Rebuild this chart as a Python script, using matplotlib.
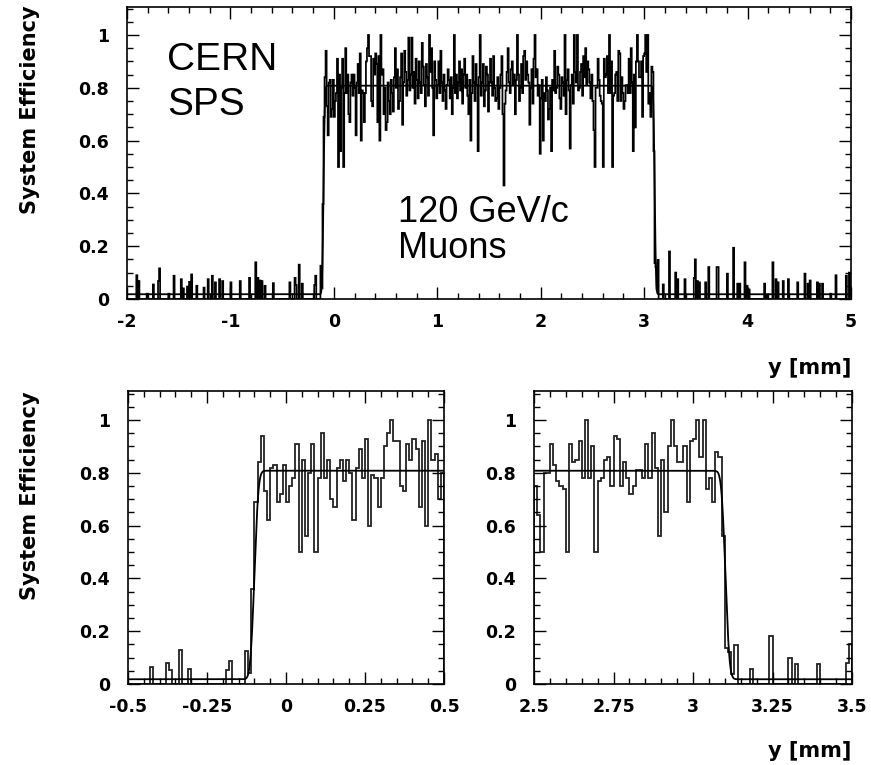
import numpy as np
import matplotlib
matplotlib.use("Agg")
import matplotlib.pyplot as plt
from matplotlib.ticker import MultipleLocator
from math import erf

# ---------------- data (bin width 0.01 mm) ----------------
bin_width = 0.01

# efficiency in bins from -0.5 to 0.5 mm (left edge zoom)
left_edge_eff = [
    0, 0, 0, 0, 0, 0, 0, 0.063, 0, 0,
    0, 0, 0.08, 0.053, 0, 0, 0.13, 0, 0, 0.058,
    0, 0, 0, 0, 0, 0, 0, 0, 0, 0,
    0, 0.053, 0.088, 0, 0, 0, 0, 0.126, 0.04, 0.36,
    0.69, 0.84, 0.94, 0.73, 0.62, 0.82, 0.83, 0.69, 0.72, 0.83,
    0.69, 0.75, 0.78, 0.91, 0.50, 0.85, 0.56, 0.80, 0.91, 0.50,
    0.78, 0.95, 0.78, 0.85, 0.70, 0.67, 0.82, 0.85, 0.77, 0.85,
    0.80, 0.62, 0.82, 0.89, 0.78, 0.93, 0.60, 0.79, 0.78, 0.67,
    0.78, 0.90, 0.95, 1.00, 0.92, 0.92, 0.75, 0.73, 0.91, 0.85,
    0.93, 0.89, 0.67, 0.92, 0.60, 1.00, 0.85, 0.87, 0.70, 0.80,
]

# efficiency in bins from 0.5 to 2.5 mm (plateau)
plateau_eff = [
    0.64, 0.67, 0.82, 0.75, 0.70, 0.83, 0.78, 0.71, 0.84, 0.95,
    0.80, 0.87, 0.72, 0.75, 0.84, 0.93, 0.66, 0.82, 0.94, 0.86,
    0.77, 0.83, 0.99, 0.79, 0.85, 0.99, 0.80, 0.86, 0.74, 0.91,
    0.83, 0.76, 0.90, 0.82, 0.78, 0.97, 0.88, 0.81, 0.73, 0.89,
    0.84, 0.77, 1.00, 0.86, 0.95, 0.80, 0.62, 0.90, 0.83, 0.76,
    0.81, 0.90, 0.78, 0.94, 0.82, 0.75, 0.85, 0.79, 0.72, 0.81,
    0.87, 0.83, 0.76, 0.84, 0.70, 0.80, 1.00, 0.78, 0.85, 0.76,
    0.82, 0.90, 0.79, 0.87, 0.74, 0.85, 0.91, 0.80, 0.85, 0.77,
    0.70, 0.83, 0.60, 0.78, 0.92, 0.82, 0.75, 0.89, 0.81, 0.56,
    0.84, 1.00, 0.77, 0.82, 0.89, 0.73, 0.79, 0.88, 0.85, 0.71,
    0.82, 0.91, 0.82, 0.77, 0.92, 0.80, 0.75, 0.76, 0.84, 0.72,
    0.80, 0.85, 0.92, 0.70, 0.43, 0.74, 0.79, 0.86, 0.95, 0.82,
    0.78, 0.87, 0.90, 0.81, 0.85, 0.70, 0.83, 1.00, 0.85, 0.75,
    0.80, 0.89, 0.78, 0.92, 0.94, 0.83, 0.90, 0.85, 0.82, 0.66,
    0.80, 0.87, 0.74, 0.91, 1.00, 0.84, 0.87, 0.77, 0.81, 0.55,
    0.76, 0.83, 0.60, 0.78, 0.75, 0.84, 0.79, 0.68, 0.72, 0.80,
    0.56, 0.83, 0.79, 0.94, 0.78, 0.80, 0.88, 0.85, 0.76, 0.72,
    0.84, 0.82, 0.77, 1.00, 0.70, 0.83, 0.87, 0.79, 0.57, 0.81,
    0.85, 0.74, 1.00, 0.86, 0.82, 1.00, 0.79, 0.80, 0.86, 0.89,
    0.77, 0.92, 0.84, 0.95, 0.81, 0.90, 0.87, 0.82, 0.76, 0.85,
]

# efficiency in bins from 2.5 to 3.5 mm (right edge zoom)
right_edge_eff = [
    0.75, 0.64, 0.50, 0.80, 0.80, 0.91, 0.83, 0.77, 0.75, 0.74,
    0.50, 0.91, 0.84, 0.85, 0.92, 0.78, 1.00, 0.78, 0.90, 0.50,
    0.77, 0.78, 0.85, 0.86, 0.75, 0.94, 0.93, 0.75, 0.84, 0.78,
    0.72, 0.75, 0.81, 0.81, 0.78, 0.91, 0.78, 0.95, 0.82, 0.56,
    0.85, 0.65, 0.90, 1.00, 0.90, 0.84, 0.84, 0.90, 0.69, 0.92,
    0.93, 1.00, 0.86, 1.00, 0.74, 0.78, 0.69, 0.88, 0.86, 0.56,
    0.136, 0.12, 0.036, 0.148, 0, 0, 0, 0, 0.055, 0,
    0, 0, 0, 0, 0.18, 0, 0, 0, 0, 0,
    0.10, 0, 0.075, 0, 0, 0, 0, 0, 0, 0.075,
    0, 0, 0, 0, 0, 0, 0, 0, 0.08, 0.15,
]

# sparse noise outside the sensor (bin left edges, mm) and values
noise_left_y = [-1.91, -1.89, -1.81, -1.75, -1.70, -1.69, -1.60, -1.55,
                -1.48, -1.46, -1.42, -1.40, -1.38, -1.33, -1.26, -1.22,
                -1.18, -1.15, -1.11, -1.08, -1.00, -0.91, -0.82, -0.76,
                -0.74, -0.72, -0.70, -0.67, -0.59]
noise_left_eff = [0.09, 0.068, 0.02, 0.055, 0.068, 0.116, 0.02, 0.088,
                  0.075, 0.04, 0.047, 0.065, 0.093, 0.05, 0.043, 0.075,
                  0.088, 0.063, 0.075, 0.068, 0.063, 0.068, 0.08, 0.139,
                  0.08, 0.07, 0.068, 0.05, 0.06]
noise_right_y = [3.51, 3.53, 3.59, 3.62, 3.70, 3.71, 3.80, 3.86, 3.90,
                 3.92, 3.97, 3.99, 4.01, 4.16, 4.18, 4.24, 4.27, 4.29,
                 4.34, 4.39, 4.48, 4.55, 4.58, 4.60, 4.67, 4.69, 4.72,
                 4.80, 4.85, 4.95, 4.98]
noise_right_eff = [0.068, 0.063, 0.063, 0.121, 0.121, 0.121, 0.096, 0.194,
                   0.058, 0.058, 0.139, 0.05, 0.036, 0.058, 0.017, 0.139,
                   0.075, 0.063, 0.068, 0.075, 0.063, 0.096, 0.058, 0.07,
                   0.063, 0.058, 0.058, 0.02, 0.09, 0.088, 0.10]

# fitted efficiency model (double error function)
fit_base = 0.018
fit_plateau = 0.808
fit_edge_low = -0.100
fit_edge_high = 3.102
fit_sigma = 0.010

# ---------------- build histograms ----------------
full_lo, full_hi = -2.0, 5.0
nfull = int(round((full_hi - full_lo) / bin_width))
full = np.zeros(nfull)
def idx(y):
    return int(round((y - full_lo) / bin_width))
for y, v in zip(noise_left_y, noise_left_eff):
    full[idx(y)] = v
for y, v in zip(noise_right_y, noise_right_eff):
    full[idx(y)] = v
full[idx(-0.5):idx(-0.5) + len(left_edge_eff)] = left_edge_eff
full[idx(0.5):idx(0.5) + len(plateau_eff)] = plateau_eff
full[idx(2.5):idx(2.5) + len(right_edge_eff)] = right_edge_eff
full_edges = full_lo + bin_width * np.arange(nfull + 1)

le_edges = -0.5 + bin_width * np.arange(len(left_edge_eff) + 1)
re_edges = 2.5 + bin_width * np.arange(len(right_edge_eff) + 1)

def fit_curve(x):
    s = fit_sigma * np.sqrt(2.0)
    step = np.array([0.5 * (erf((xi - fit_edge_low) / s) - erf((xi - fit_edge_high) / s)) for xi in x])
    return fit_base + (fit_plateau - fit_base) * step

# ---------------- figure ----------------
plt.rcParams['font.family'] = ['DejaVu Sans']
plt.rcParams['font.weight'] = 'bold'
W, H = 871, 765
fig = plt.figure(figsize=(W / 100, H / 100), dpi=100)

def axes_px(l, t, r, b):
    return fig.add_axes([l / W, 1 - b / H, (r - l) / W, (b - t) / H])

ax_top = axes_px(127, 7, 851, 299)
ax_bl = axes_px(128, 391, 444, 684)
ax_br = axes_px(534, 391, 852, 684)

def style(ax, xlim, xmajor, xminor, xlabels, ymax):
    ax.set_xlim(*xlim)
    ax.set_ylim(0, ymax)
    ax.set_xticks(xmajor, xlabels)
    ax.xaxis.set_minor_locator(MultipleLocator(xminor))
    ax.set_yticks([0, 0.2, 0.4, 0.6, 0.8, 1.0], ['0', '0.2', '0.4', '0.6', '0.8', '1'])
    ax.yaxis.set_minor_locator(MultipleLocator(0.05))
    ax.tick_params(which='both', direction='in', top=True, right=True,
                   width=1.0, labelsize=12.5, colors='black')
    ax.tick_params(which='major', length=8.5)
    ax.tick_params(which='minor', length=4.3)
    ax.tick_params(axis='x', pad=10)
    ax.tick_params(axis='y', pad=13)
    for sp in ax.spines.values():
        sp.set_linewidth(1.2)

style(ax_top, (-2, 5), [-2, -1, 0, 1, 2, 3, 4, 5], 0.2,
      ['-2', '-1', '0', '1', '2', '3', '4', '5'], 1.106)
style(ax_bl, (-0.5, 0.5), [-0.5, -0.25, 0, 0.25, 0.5], 0.05,
      ['-0.5', '-0.25', '0', '0.25', '0.5'], 1.11)
style(ax_br, (2.5, 3.5), [2.5, 2.75, 3, 3.25, 3.5], 0.05,
      ['2.5', '2.75', '3', '3.25', '3.5'], 1.11)

ax_top.stairs(full, full_edges, color='black', lw=1.25)
ax_bl.stairs(left_edge_eff, le_edges, color='#222222', lw=1.3)
ax_br.stairs(right_edge_eff, re_edges, color='#222222', lw=1.3)

for ax, (a, b) in [(ax_top, (-2, 5)), (ax_bl, (-0.5, 0.5)), (ax_br, (2.5, 3.5))]:
    xs = np.linspace(a, b, 3000)
    ax.plot(xs, fit_curve(xs), color='black', lw=1.3)

# labels
fig.text(30 / W, 1 - 5 / H, 'System Efficiency', rotation=90, ha='center', va='top',
         fontsize=15, fontweight='bold')
fig.text(30 / W, 1 - 391 / H, 'System Efficiency', rotation=90, ha='center', va='top',
         fontsize=15, fontweight='bold')
fig.text(851 / W, 1 - 368 / H, 'y [mm]', ha='right', va='center', fontsize=15, fontweight='bold')
fig.text(851 / W, 1 - 751 / H, 'y [mm]', ha='right', va='center', fontsize=15, fontweight='bold')

ann = dict(family=['Liberation Sans', 'DejaVu Sans'], fontweight='normal', color='black')
ax_top.text(0.055, 0.784, 'CERN', transform=ax_top.transAxes, fontsize=28, va='baseline', **ann)
ax_top.text(0.055, 0.630, 'SPS', transform=ax_top.transAxes, fontsize=28, va='baseline', **ann)
ax_top.text(0.374, 0.264, '120 GeV/c', transform=ax_top.transAxes, fontsize=26, va='baseline', **ann)
ax_top.text(0.374, 0.140, 'Muons', transform=ax_top.transAxes, fontsize=26, va='baseline', **ann)

fig.savefig('out.png', dpi=100, facecolor='white')
